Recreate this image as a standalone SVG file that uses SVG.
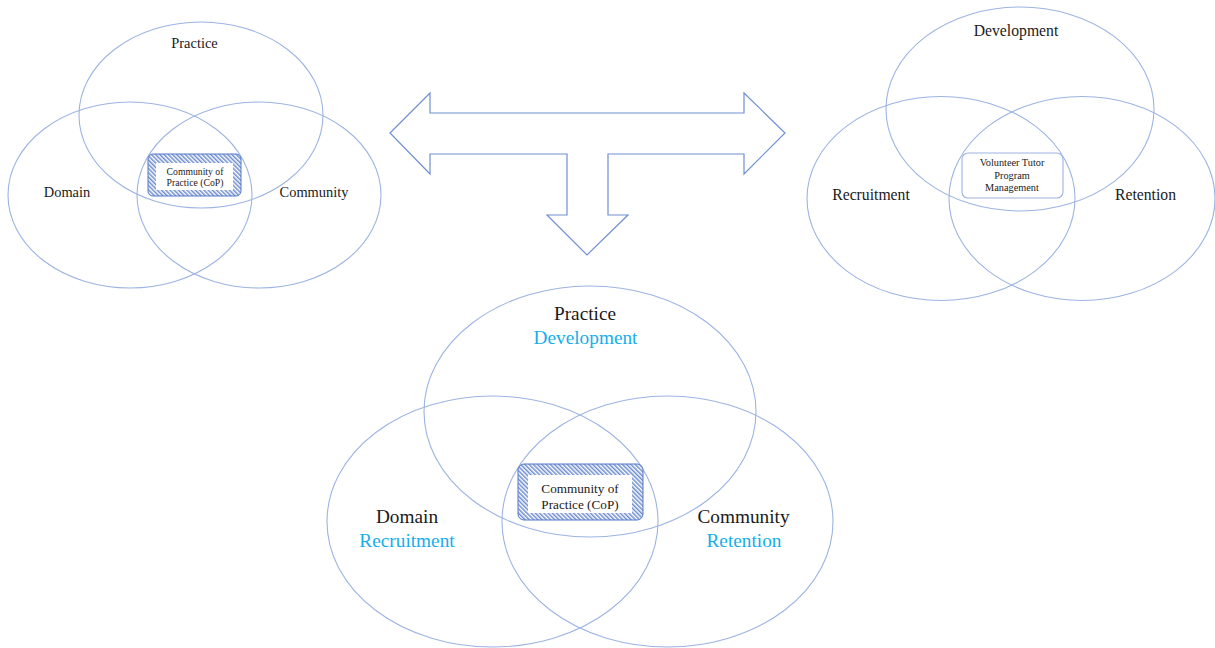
<svg xmlns="http://www.w3.org/2000/svg" width="1215" height="648" viewBox="0 0 1215 648">
<style>
.ell{fill:none;stroke:#9DB4E2;stroke-width:1.1}
.lbl{font-family:"Liberation Serif","Times New Roman",serif;fill:#1a1a1a;text-anchor:middle}
.cyan{fill:#14AEEC}
.hatch{fill:url(#hatch);stroke:#5479C6;stroke-width:1}
</style>
<defs>
<pattern id="hatch" width="3" height="3" patternUnits="userSpaceOnUse" patternTransform="rotate(-45)">
<rect width="3" height="3" fill="#ffffff"/>
<line x1="0.8" y1="0" x2="0.8" y2="3" stroke="#5479C6" stroke-width="1.3"/>
</pattern>
</defs>
<rect width="1215" height="648" fill="#ffffff"/>

<g id="venn-topleft">
<ellipse class="ell" cx="201" cy="115" rx="122" ry="93"/>
<ellipse class="ell" cx="130" cy="195" rx="122" ry="93"/>
<ellipse class="ell" cx="259" cy="195" rx="122" ry="93"/>
<text class="lbl" x="194.5" y="48" font-size="14.4">Practice</text>
<text class="lbl" x="67" y="197" font-size="14.4">Domain</text>
<text class="lbl" x="314" y="197" font-size="14.4">Community</text>
</g>
<g id="cop-topleft">
<rect class="hatch" x="148" y="154" width="93" height="42" rx="5"/>
<rect x="156" y="163" width="77" height="27" fill="#ffffff"/>
<text class="lbl" x="195" y="175" font-size="9.7">Community of</text>
<text class="lbl" x="195" y="186" font-size="9.7">Practice (CoP)</text>
</g>

<g id="venn-topright">
<ellipse class="ell" cx="1020" cy="109" rx="134" ry="102"/>
<ellipse class="ell" cx="941" cy="198.5" rx="134" ry="102"/>
<ellipse class="ell" cx="1082" cy="198.5" rx="133" ry="102"/>
<text class="lbl" x="1016" y="36" font-size="15.7">Development</text>
<text class="lbl" x="871" y="200" font-size="15.7">Recruitment</text>
<text class="lbl" x="1145.5" y="200" font-size="15.7">Retention</text>
</g>
<g id="vtpm-box">
<rect x="962" y="153" width="101" height="45" rx="6" fill="#ffffff" stroke="#9DB4E2" stroke-width="1.1"/>
<text class="lbl" x="1012" y="166" font-size="10.3">Volunteer Tutor</text>
<text class="lbl" x="1012" y="178.5" font-size="10.3">Program</text>
<text class="lbl" x="1012" y="191" font-size="10.3">Management</text>
</g>

<g id="connectors">
<path d="M390,133 L430,93 L430,113 L744,113 L744,93 L785,133 L744,174 L744,154 L608,154 L608,215 L628,215 L587,255 L547,215 L567,215 L567,154 L430,154 L430,174 Z" fill="none" stroke="#6E8FD2" stroke-width="1.2" stroke-linejoin="miter"/>
</g>

<g id="venn-bottom">
<ellipse class="ell" cx="590" cy="411.5" rx="166" ry="125.5"/>
<ellipse class="ell" cx="492.5" cy="521.5" rx="165.5" ry="125.5"/>
<ellipse class="ell" cx="667.5" cy="521.5" rx="165.5" ry="125.5"/>
<text class="lbl" x="585" y="320" font-size="19.3">Practice</text>
<text class="lbl cyan" x="585.5" y="344" font-size="19.3">Development</text>
<text class="lbl" x="407" y="523" font-size="19.3">Domain</text>
<text class="lbl cyan" x="407" y="547" font-size="19.3">Recruitment</text>
<text class="lbl" x="743.5" y="523" font-size="19.3">Community</text>
<text class="lbl cyan" x="744" y="547" font-size="19.3">Retention</text>
</g>
<g id="cop-bottom">
<rect class="hatch" x="518" y="464" width="125" height="56" rx="6"/>
<rect x="528" y="475" width="104" height="38" fill="#ffffff"/>
<text class="lbl" x="580" y="493" font-size="13.2">Community of</text>
<text class="lbl" x="580" y="509" font-size="13.2">Practice (CoP)</text>
</g>
</svg>
